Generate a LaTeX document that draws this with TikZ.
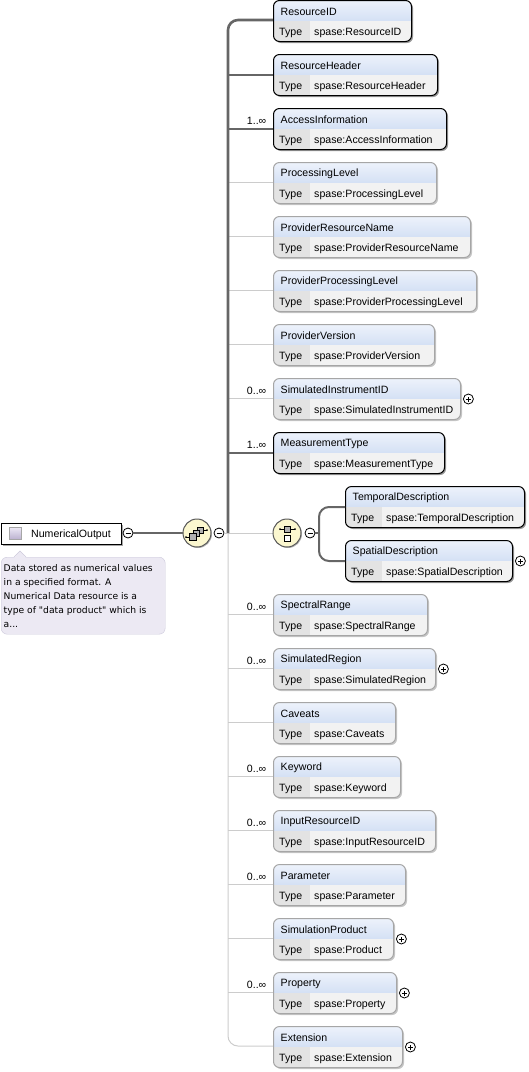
\documentclass[tikz,border=0pt]{standalone}
\usepackage{fontspec}
\setmainfont{Liberation Sans}
\newfontfamily\notefont{DejaVu Sans}
\usetikzlibrary{positioning, calc, shadows}

\definecolor{linkdark}{HTML}{666666}
\definecolor{linklight}{HTML}{CCCCCC}
\definecolor{elemtop}{HTML}{EDF2FB}
\definecolor{elemmid}{HTML}{BBCFEE}
\definecolor{typecell}{HTML}{E3E3E3}
\definecolor{typerest}{HTML}{F2F2F2}
\definecolor{groupfill}{HTML}{FBF7CF}
\definecolor{notefill}{HTML}{ECE9F3}
\definecolor{noteline}{HTML}{CBC8DA}
\definecolor{iconfill}{HTML}{CFC4E6}

\begin{document}
\begin{tikzpicture}[
    x=1pt, y=-1pt,
    elem/.style={rounded corners=6pt, minimum height=41pt, inner sep=0pt,
                 anchor=north west, line width=1pt,
                 drop shadow={shadow xshift=1.5pt, shadow yshift=-1.5pt, opacity=1, fill=#1},
                 path picture={
                   \shade[sharp corners, top color=elemtop, bottom color=elemmid]
                     (path picture bounding box.north west) rectangle
                     ([yshift=-20pt]path picture bounding box.north east);
                   \fill[sharp corners, typerest] ([yshift=-20pt]path picture bounding box.north west) rectangle
                     (path picture bounding box.south east);
                   \fill[sharp corners, typecell] ([yshift=-20pt]path picture bounding box.north west) rectangle
                     ([xshift=36pt]path picture bounding box.south west);
                 }},
    req/.style={elem=gray!80, draw=black},
    opt/.style={elem=gray!45, draw=gray!70},
    txt/.style={font=\fontsize{10.6}{13}\selectfont, inner sep=0pt, anchor=west},
    card/.style={txt, anchor=east},
    reqlink/.style={draw=linkdark, line width=2.6pt},
    optlink/.style={draw=linklight, line width=1pt},
    midlink/.style={draw=linkdark, line width=2pt},
    toggle/.style={circle, draw=black, fill=white, minimum size=10pt, inner sep=0pt, line width=0.8pt},
    group/.style={circle, draw=gray!70!black, fill=groupfill, minimum size=28pt, inner sep=0pt,
                  line width=1pt, drop shadow={shadow xshift=1pt, shadow yshift=-1pt, opacity=1, fill=gray!60}},
    iconbox/.style={fill=gray!60, draw=black, line width=0.6pt}
  ]
  \useasboundingbox (0,0) rectangle (529,1072);

  \coordinate (trunk) at (228,533);

  % links behind everything
  \foreach \y in {182,236,290,344,398,614,668,722,776,830,884,938,992} {
    \coordinate (b\y) at (273,\y);
    \draw[optlink] (trunk |- b\y) -- (b\y);
  }
  \draw[optlink] (trunk) -- (273,533);
  \draw[optlink, rounded corners=10pt] (trunk) |- (273,1046);
  \foreach \y in {75,129,453} {
    \coordinate (b\y) at (273,\y);
    \draw[reqlink] (trunk |- b\y) -- (b\y);
  }
  \draw[reqlink, rounded corners=10pt] (trunk) |- (273,20);

  % elements
  \foreach \n/\x/\y/\w/\s/\v/\t in {
    e1/273/0/138/req/ResourceID/ResourceID,
    e2/273/54/164/req/ResourceHeader/ResourceHeader,
    e3/273/108/173/req/AccessInformation/AccessInformation,
    e4/273/162/163/opt/ProcessingLevel/ProcessingLevel,
    e5/273/216/197/opt/ProviderResourceName/ProviderResourceName,
    e6/273/270/203/opt/ProviderProcessingLevel/ProviderProcessingLevel,
    e7/273/324/161/opt/ProviderVersion/ProviderVersion,
    e8/273/378/187/opt/SimulatedInstrumentID/SimulatedInstrumentID,
    e9/273/432/171/req/MeasurementType/MeasurementType,
    e10/345/486/179/req/TemporalDescription/TemporalDescription,
    e11/345/540/167/req/SpatialDescription/SpatialDescription,
    e12/273/594/154/opt/SpectralRange/SpectralRange,
    e13/273/648/162/opt/SimulatedRegion/SimulatedRegion,
    e14/273/702/122/opt/Caveats/Caveats,
    e15/273/756/127/opt/Keyword/Keyword,
    e16/273/810/162/opt/InputResourceID/InputResourceID,
    e17/273/864/132/opt/Parameter/Parameter,
    e18/273/918/120/opt/SimulationProduct/Product,
    e19/273/972/123/opt/Property/Property,
    e20/273/1026/129/opt/Extension/Extension} {
    \node[\s, minimum width=\w pt] (\n) at (\x,\y) {};
    \node[txt] (\n-name) at ([xshift=7.5pt,yshift=-12pt]\n.north west) {\v};
    \node[txt] (\n-kind) at ([xshift=6pt,yshift=-33pt]\n.north west) {Type};
    \node[txt] (\n-type) at ([xshift=41pt,yshift=-33pt]\n.north west) {spase:\t};
  }

  % cardinalities
  \foreach \n/\v in {e3/1, e8/0, e9/1, e12/0, e13/0, e15/0, e16/0, e17/0, e19/0} {
    \node[card] (\n-card) at ([xshift=-6.5pt,yshift=8pt]\n.west) {\v..∞};
  }

  % root element and its note
  \node[draw=black, line width=1pt, fill=white, minimum width=120pt, minimum height=21pt,
        inner sep=0pt, anchor=north west,
        drop shadow={shadow xshift=1.5pt, shadow yshift=-1.5pt, opacity=1, fill=gray!70}]
    (root) at (0.5,523) {};
  \node[draw=gray!70, minimum size=12pt, inner sep=0pt, top color=iconfill!40, bottom color=iconfill!90!black] (root-icon) at (15.5,533.5) {};
  \node[txt] (root-name) at (31,534.5) {NumericalOutput};

  \node[draw=noteline, fill=notefill, rounded corners=6pt, minimum width=164pt, minimum height=77pt,
        inner sep=0pt, anchor=north west] (note) at (1,557) {};
  \fill[notefill] (14,558) -- (20,551) -- (26,558) -- cycle;
  \draw[noteline] (14,557) -- (20,551) -- (26,557);
  \node[font=\notefont\fontsize{9.2}{14}\selectfont, align=left, anchor=north west, inner sep=0pt]
    (note-text) at (3.5,564) {Data stored as numerical values\\in a specified format. A\\Numerical Data resource is a\\type of "data product" which is\\a...};

  % groups
  \node[group] (seq) at (197,533) {};
  \node[group] (cho) at (287,533) {};
  \draw[line width=0.7pt] (186,537) -- (189,537) (203,530) -- (207,530);
  \fill (186,537) circle (1pt) (207,530) circle (1pt);
  \draw[iconbox] (197,527) rectangle (203,533);
  \draw[iconbox] (193,530) rectangle (199,536);
  \draw[iconbox] (189,533) rectangle (196,540);
  \draw[line width=0.7pt] (280,529) -- (295,529);
  \fill (280,529) circle (1pt) (295,529) circle (1pt);
  \draw[iconbox] (284.5,526) rectangle (290.5,532);
  \draw[fill=white, line width=0.7pt] (284.5,535) rectangle (290.5,541);

  % toggles
  \node[toggle] (root-minus) at (128,533) {};
  \node[toggle] (seq-minus) at (219,533) {};
  \node[toggle] (cho-minus) at (310,533) {};
  \foreach \c in {root-minus, seq-minus, cho-minus} {
    \draw[line width=0.8pt] ([xshift=-2.5pt]\c.center) -- ([xshift=2.5pt]\c.center);
  }
  \foreach \n in {e8, e11, e13, e18, e19, e20} {
    \node[toggle, right=2pt of \n] (\n-plus) {};
    \draw[line width=0.8pt] ([xshift=-2.5pt]\n-plus.center) -- ([xshift=2.5pt]\n-plus.center);
    \draw[line width=0.8pt] ([yshift=-2.5pt]\n-plus.center) -- ([yshift=2.5pt]\n-plus.center);
  }

  % connectors between named nodes
  \draw[midlink] (root-minus) -- (seq);
  \draw[optlink] (seq-minus) -- (trunk);
  \coordinate (fork) at (319,533);
  \draw[midlink] (cho-minus) -- (fork);
  \draw[midlink, rounded corners=10pt] (fork) |- (e10.west);
  \draw[midlink, rounded corners=10pt] (fork) |- (e11.west);
\end{tikzpicture}
\end{document}
